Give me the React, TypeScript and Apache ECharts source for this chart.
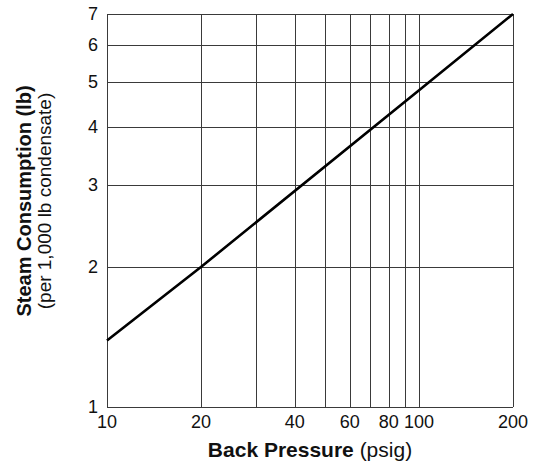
import React, { useEffect, useRef } from "react";
import * as echarts from "echarts";

const xGridValues = [10, 20, 30, 40, 50, 60, 70, 80, 90, 100, 200];
const xLabelValues = [10, 20, 40, 60, 80, 100, 200];
const yGridValues = [1, 2, 3, 4, 5, 6, 7];
const pressure = [10, 20, 100, 200];
const consumption = [1.39, 2, 4.8, 7];

const FONT = "'Liberation Sans', Arial, Helvetica, sans-serif";

export default function App() {
  const ref = useRef<HTMLDivElement>(null);
  useEffect(() => {
    if (!ref.current) return;
    const chart = echarts.init(ref.current, undefined, { renderer: "svg" });
    const gridColor = "#3a3a3a";
    const lineData = pressure.map((p, i) => [p, consumption[i]]);
    const markData: any[] = [];
    xGridValues.forEach((v) => {
      markData.push({
        xAxis: v,
        label: {
          show: xLabelValues.includes(v),
          position: "start",
          distance: 6,
          formatter: String(v),
          color: "#111",
          fontSize: 18,
          fontFamily: FONT,
        },
      });
    });
    yGridValues.forEach((v) => {
      markData.push({
        yAxis: v,
        label: {
          show: true,
          position: "start",
          distance: 9,
          formatter: String(v),
          color: "#111",
          fontSize: 18,
          fontFamily: FONT,
        },
      });
    });
    chart.setOption({
      animation: false,
      backgroundColor: "#fff",
      grid: {
        left: 107,
        right: 27,
        top: 14,
        bottom: 60,
        containLabel: false,
        outerBoundsMode: "none",
      },
      xAxis: {
        type: "log",
        logBase: 10,
        min: 10,
        max: 200,
        axisLine: { show: false },
        axisTick: { show: false },
        axisLabel: { show: false },
        splitLine: { show: false },
        minorSplitLine: { show: false },
        name: "{b|Back Pressure} {n|(psig)}",
        nameLocation: "middle",
        nameGap: 32,
        nameTextStyle: {
          fontSize: 21,
          fontFamily: FONT,
          rich: {
            b: { fontSize: 21, fontWeight: "bold", fontFamily: FONT, color: "#111" },
            n: { fontSize: 21, fontFamily: FONT, color: "#111" },
          },
        },
      },
      yAxis: {
        type: "log",
        logBase: 10,
        min: 1,
        max: 7,
        axisLine: { show: false },
        axisTick: { show: false },
        axisLabel: { show: false },
        splitLine: { show: false },
        minorSplitLine: { show: false },
      },
      graphic: [
        {
          type: "text",
          x: 34,
          y: 201,
          rotation: Math.PI / 2,
          silent: true,
          style: {
            text: "{b|Steam Consumption (lb)}\n{n|(per 1,000 lb condensate)}",
            align: "center",
            verticalAlign: "middle",
            fill: "#111",
            rich: {
              b: { fontSize: 20, fontWeight: "bold", fontFamily: FONT, fill: "#111", lineHeight: 20, align: "center" },
              n: { fontSize: 19, fontFamily: FONT, fill: "#111", lineHeight: 20, align: "center" },
            },
          },
        },
      ],
      series: [
        {
          type: "line",
          data: lineData,
          z: 1,
          symbol: "none",
          lineStyle: { opacity: 0 },
          silent: true,
          markLine: {
            silent: true,
            symbol: "none",
            animation: false,
            lineStyle: { type: "solid", color: gridColor, width: 1 },
            emphasis: { disabled: true },
            data: markData,
          },
        },
        {
          type: "line",
          data: lineData,
          z: 5,
          symbol: "none",
          lineStyle: { color: "#000", width: 2.6 },
          silent: true,
        },
      ],
    });
    return () => chart.dispose();
  }, []);
  return (
    <div
      ref={ref}
      style={{ position: "fixed", left: 0, top: 0, width: 540, height: 467, background: "#fff" }}
    />
  );
}
